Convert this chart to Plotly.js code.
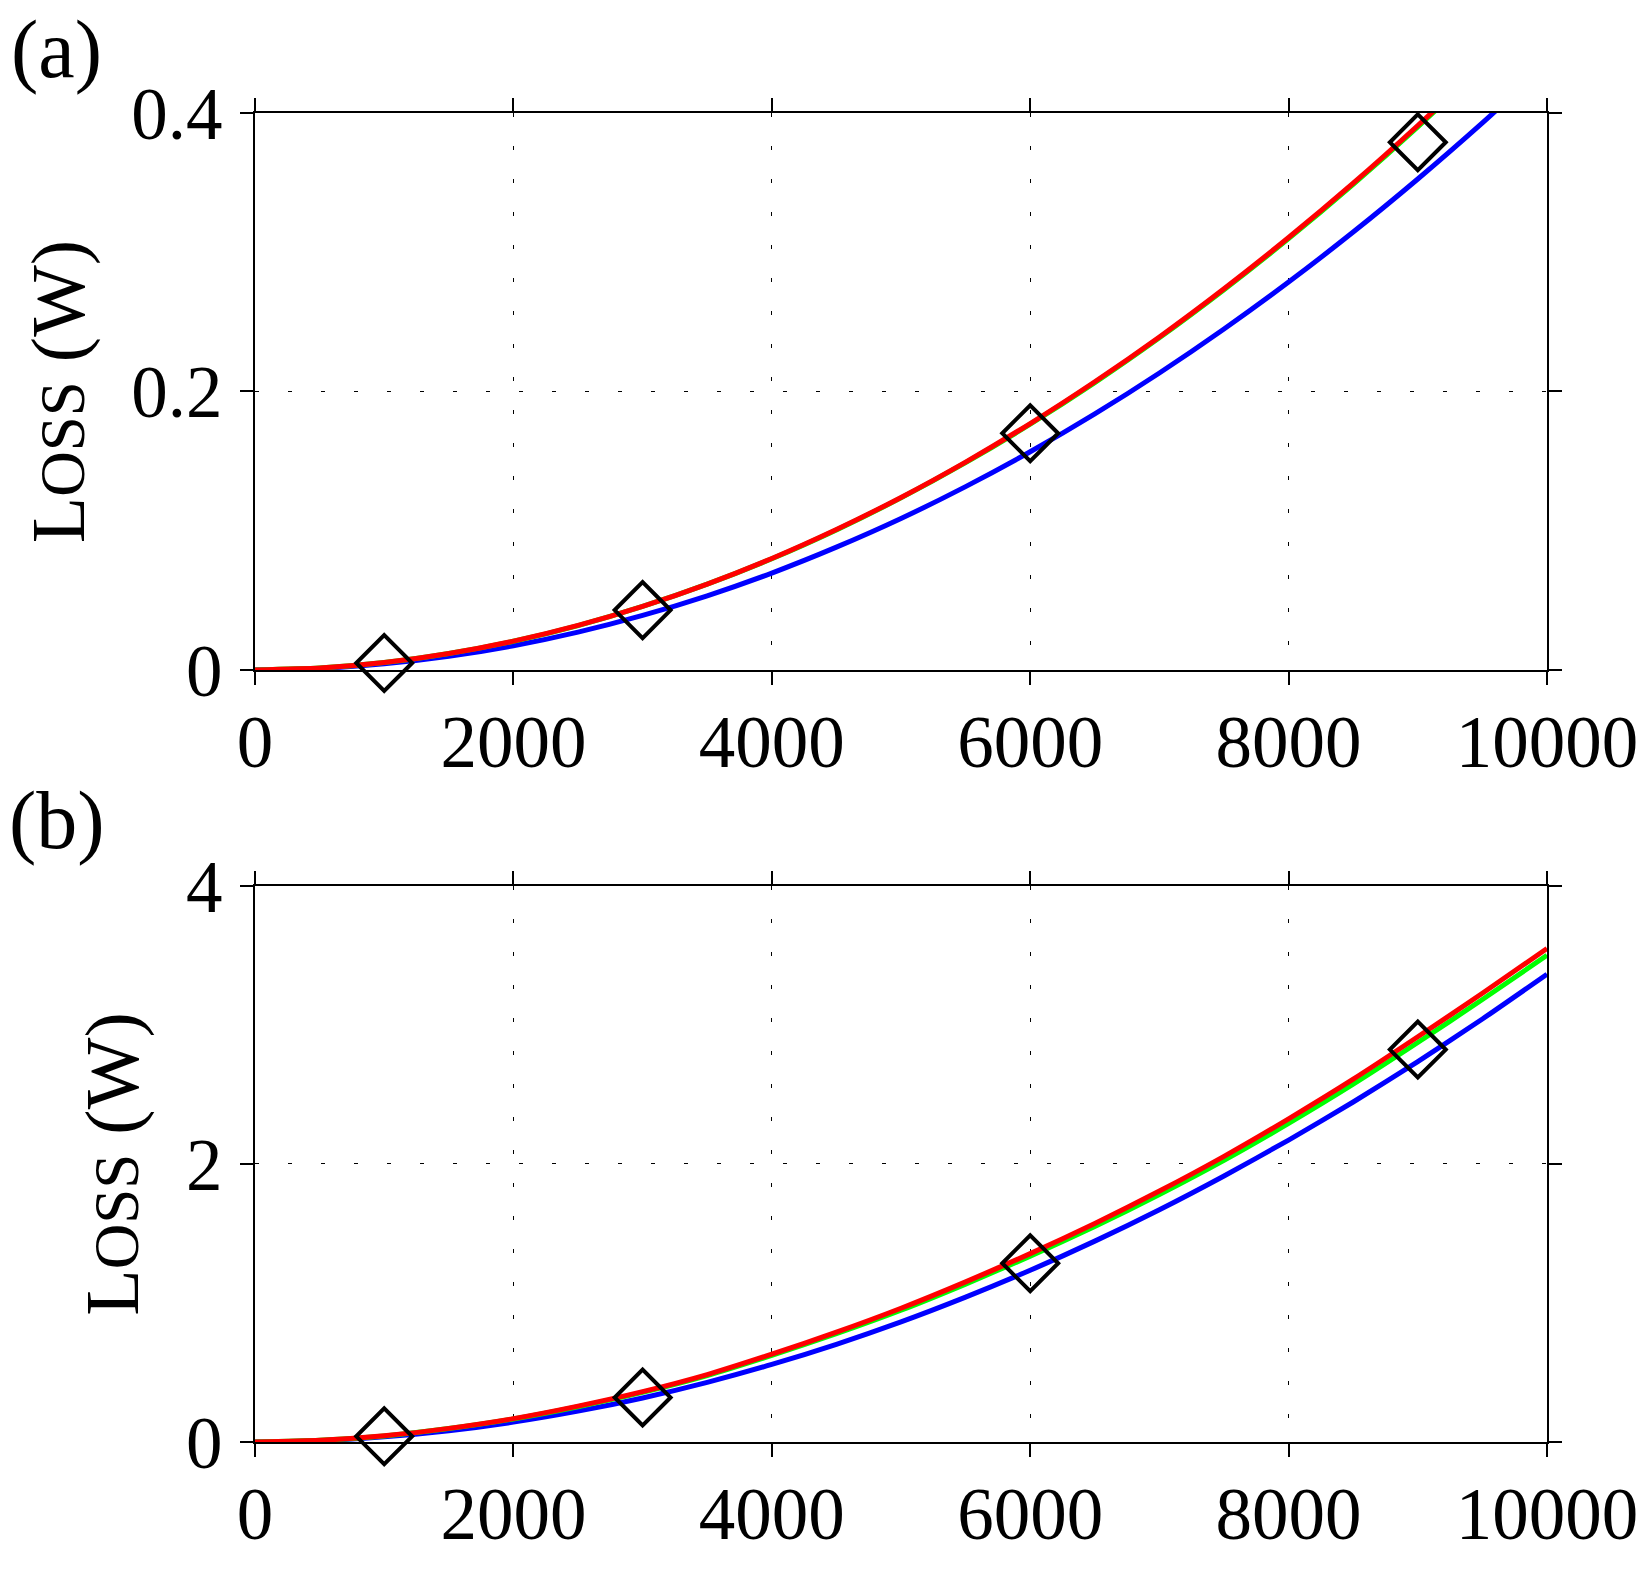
<!DOCTYPE html>
<html>
<head>
<meta charset="utf-8">
<script src="https://cdn.plot.ly/plotly-3.0.1.min.js"></script>
<style>
  html, body { margin: 0; padding: 0; background: #fff; }
  #chart { width: 1651px; height: 1575px; }
</style>
</head>
<body>
<div id="chart"></div>
<script>
// speed values shared by both panels
const speed = [0, 500, 1000, 1500, 2000, 2500, 3000, 3500, 4000, 4500, 5000,
  5500, 6000, 6500, 7000, 7500, 8000, 8500, 9000, 9500, 10000];

// panel (a)
const lossA_blue = [0, 0.0011, 0.0044, 0.0098, 0.0174, 0.0272, 0.0392, 0.0533, 0.0696, 0.0882, 0.1088,
  0.1317, 0.1567, 0.1839, 0.2133, 0.2449, 0.2786, 0.3145, 0.3526, 0.3929, 0.4353];
const lossA_green = [0, 0.0014, 0.0053, 0.0118, 0.0206, 0.0319, 0.0456, 0.0616, 0.0799, 0.1006, 0.1236,
  0.1489, 0.1765, 0.2064, 0.2386, 0.2731, 0.3098, 0.3488, 0.3901, 0.4336, 0.4794];
const lossA_red = [0, 0.0014, 0.0053, 0.0118, 0.0207, 0.0320, 0.0457, 0.0617, 0.0801, 0.1009, 0.1239,
  0.1493, 0.1770, 0.2070, 0.2392, 0.2738, 0.3106, 0.3496, 0.3910, 0.4346, 0.4805];

// panel (b)
const lossB_blue = [0, 0.0094, 0.037, 0.081, 0.143, 0.222, 0.317, 0.429, 0.558, 0.703, 0.864,
  1.042, 1.235, 1.445, 1.671, 1.914, 2.172, 2.446, 2.736, 3.043, 3.365];
const lossB_green = [0, 0.012, 0.044, 0.097, 0.166, 0.254, 0.357, 0.478, 0.623, 0.779, 0.948,
  1.136, 1.336, 1.550, 1.780, 2.026, 2.292, 2.574, 2.874, 3.183, 3.501];
const lossB_red = [0, 0.012, 0.045, 0.098, 0.168, 0.258, 0.362, 0.485, 0.632, 0.790, 0.962,
  1.152, 1.355, 1.572, 1.805, 2.055, 2.325, 2.610, 2.915, 3.228, 3.550];

// measured points (diamonds)
const measSpeed = [1000, 3000, 6000, 9000];
const measA = [0.005, 0.043, 0.170, 0.379];
const measB = [0.041, 0.32, 1.286, 2.823];

const xTicks = [0, 2000, 4000, 6000, 8000, 10000];
const yTicksA = [0, 0.2, 0.4];
const yTickTextA = ['0', '0.2', '0.4'];
const yTicksB = [0, 2, 4];
const yTickTextB = ['0', '2', '4'];

const FONT = 'Liberation Serif, Times New Roman, serif';
const TICK_SIZE = 73;

const lineTrace = (y, color, xa, ya) => ({
  type: 'scatter', mode: 'lines', x: speed, y,
  xaxis: xa, yaxis: ya, showlegend: false, hoverinfo: 'skip',
  line: { color, width: 5, shape: 'spline', smoothing: 0.6 }
});

const diamondTrace = (y, xa, ya) => ({
  type: 'scatter', mode: 'markers', x: measSpeed, y,
  xaxis: xa, yaxis: ya, showlegend: false, cliponaxis: false,
  marker: { symbol: 'diamond-open', size: 43, color: '#000', line: { color: '#000', width: 4 } }
});

const data = [
  lineTrace(lossA_blue, '#0000ff', 'x', 'y'),
  lineTrace(lossA_green, '#00ff00', 'x', 'y'),
  lineTrace(lossA_red, '#ff0000', 'x', 'y'),
  diamondTrace(measA, 'x', 'y'),
  lineTrace(lossB_blue, '#0000ff', 'x2', 'y2'),
  lineTrace(lossB_green, '#00ff00', 'x2', 'y2'),
  lineTrace(lossB_red, '#ff0000', 'x2', 'y2'),
  diamondTrace(measB, 'x2', 'y2')
];

const baseAxis = {
  showline: true, linecolor: '#000', linewidth: 2, mirror: 'ticks',
  ticks: 'outside', ticklen: 13, tickwidth: 2, tickcolor: '#000',
  showgrid: true, gridcolor: '#000', gridwidth: 1, griddash: '4px,29px',
  zeroline: false, fixedrange: true,
  tickfont: { family: FONT, size: TICK_SIZE, color: '#000' }
};

const xAxis = (anchor) => Object.assign({}, baseAxis, {
  anchor, range: [0, 10000], tickvals: xTicks, ticktext: xTicks.map(String),
  ticklabelstandoff: -6
});

const yTitle = {
  text: 'L<span style="font-size:63px">OSS</span> (W)', standoff: 22,
  font: { family: FONT, size: 76, color: '#000' }
};

const layout = {
  width: 1651, height: 1575,
  margin: { l: 255, r: 104, t: 113, b: 133 },
  paper_bgcolor: '#fff', plot_bgcolor: '#fff',
  showlegend: false,
  xaxis: xAxis('y'),
  xaxis2: xAxis('y2'),
  yaxis: Object.assign({}, baseAxis, {
    anchor: 'x', domain: [0.5809, 1], range: [0, 0.4],
    tickvals: yTicksA, ticktext: yTickTextA, ticklabelstandoff: 3, title: yTitle
  }),
  yaxis2: Object.assign({}, baseAxis, {
    anchor: 'x2', domain: [0, 0.4184], range: [0, 4],
    tickvals: yTicksB, ticktext: yTickTextB, ticklabelstandoff: 3, title: yTitle
  }),
  annotations: [
    { text: '(a)', xref: 'paper', yref: 'paper', x: -0.1533, y: 1.0480,
      xanchor: 'center', yanchor: 'middle', showarrow: false,
      font: { family: FONT, size: 82, color: '#000' } },
    { text: '(b)', xref: 'paper', yref: 'paper', x: -0.1533, y: 0.4680,
      xanchor: 'center', yanchor: 'middle', showarrow: false,
      font: { family: FONT, size: 82, color: '#000' } }
  ]
};

Plotly.newPlot('chart', data, layout, { displayModeBar: false, staticPlot: true });
</script>
</body>
</html>
